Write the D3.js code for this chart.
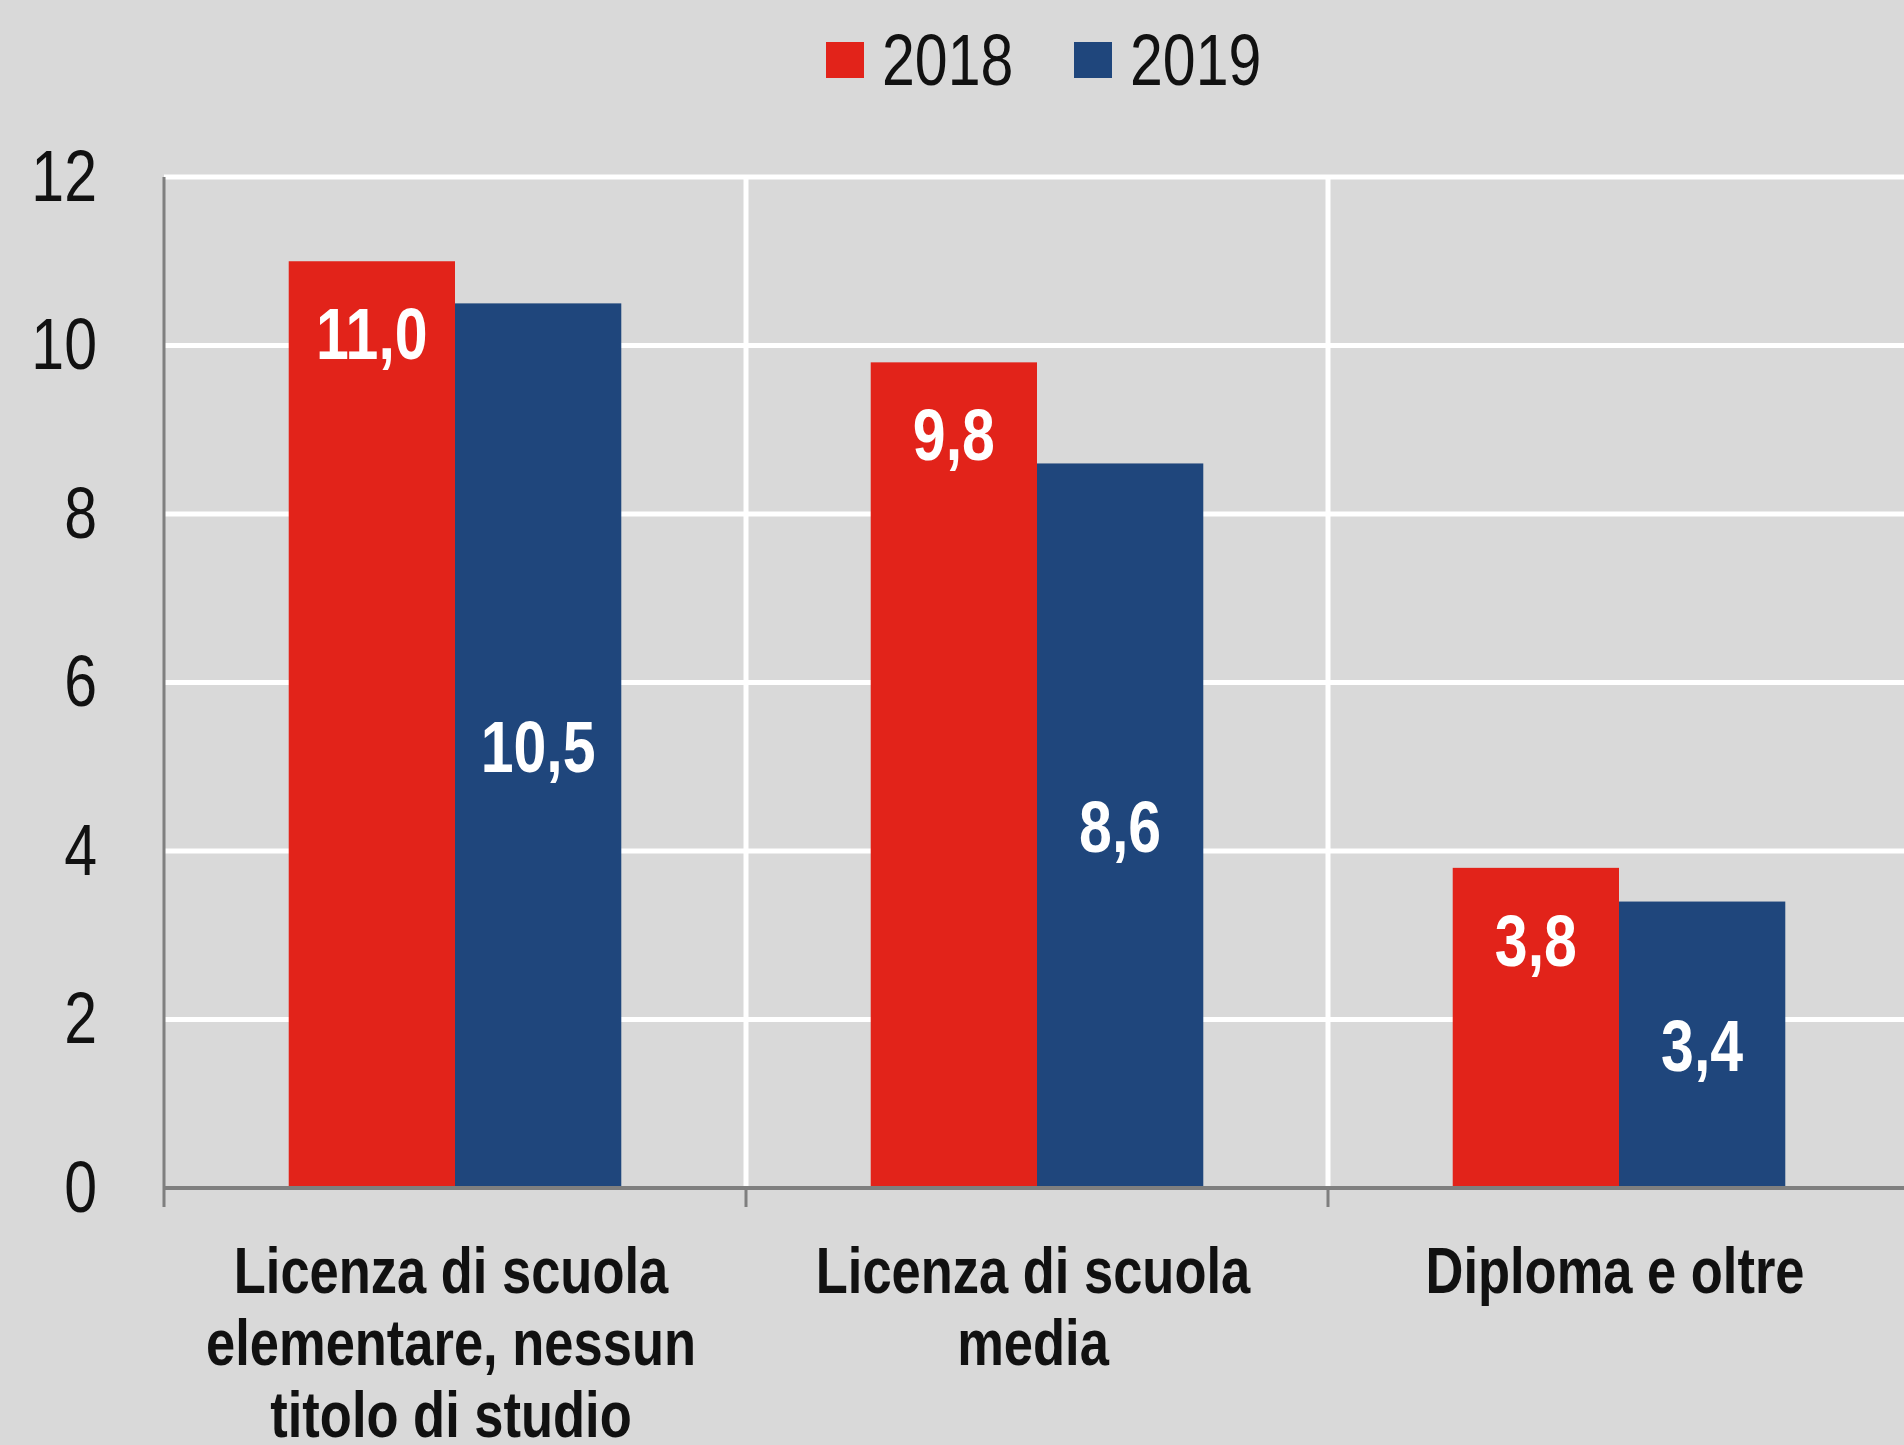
<!DOCTYPE html>
<html>
<head>
<meta charset="utf-8">
<script src="https://cdn.jsdelivr.net/npm/d3@7"></script>
<style>
  body { margin: 0; background: #d9d9d9; }
  text { font-family: "Liberation Sans Narrow", "Arial Narrow", "Liberation Sans", Arial, sans-serif; }
</style>
</head>
<body>
<div id="chart"></div>
<script>
var categories = ["elementare", "media", "diploma"];
var categoryLines = [
  ["Licenza di scuola", "elementare, nessun", "titolo di studio"],
  ["Licenza di scuola", "media"],
  ["Diploma e oltre"]
];
var series = ["2018", "2019"];
var values2018 = [11.0, 9.8, 3.8];
var values2019 = [10.5, 8.6, 3.4];
var yTicks = [0, 2, 4, 6, 8, 10, 12];

var colors = {"2018": "#e2231a", "2019": "#1f467c"};

var W = 1904, H = 1445;
var margin = {top: 177, left: 164, bottom: 257};
var plotRight = 1910;
var narrow = 0.82;   // the original uses a condensed face

// place a text at (x, y) squeezed horizontally
function at(x, y) {
  return "translate(" + x + "," + y + ") scale(" + narrow + ",1)";
}

var svg = d3.select("#chart")
  .append("svg")
    .attr("width", W)
    .attr("height", H);

// scales
var y = d3.scaleLinear()
  .domain([0, 12])
  .range([H - margin.bottom, margin.top]);

var x0 = d3.scaleBand()
  .domain(categories)
  .range([margin.left, plotRight])
  .padding(0);

var x1 = d3.scaleBand()
  .domain(series)
  .range([0, x0.bandwidth()])
  .paddingInner(0)
  .paddingOuter(0.75);

var rows = categories.map(function(c, i) {
  return {cat: c, lines: categoryLines[i], vals: {"2018": values2018[i], "2019": values2019[i]}};
});

// horizontal gridlines
svg.append("g")
  .selectAll("line")
  .data(yTicks.filter(function(d) { return d > 0; }))
  .enter()
  .append("line")
    .attr("x1", margin.left)
    .attr("x2", W)
    .attr("y1", function(d) { return y(d); })
    .attr("y2", function(d) { return y(d); })
    .attr("stroke", "white")
    .attr("stroke-width", 5);

// vertical separators between categories
svg.append("g")
  .selectAll("line")
  .data(categories.slice(1))
  .enter()
  .append("line")
    .attr("x1", function(d) { return x0(d); })
    .attr("x2", function(d) { return x0(d); })
    .attr("y1", y(12))
    .attr("y2", y(0))
    .attr("stroke", "white")
    .attr("stroke-width", 5);

// bars
var groups = svg.append("g")
  .selectAll("g")
  .data(rows)
  .enter()
  .append("g")
    .attr("transform", function(d) { return "translate(" + x0(d.cat) + ",0)"; });

groups.selectAll("rect")
  .data(function(d) { return series.map(function(s) { return {s: s, v: d.vals[s]}; }); })
  .enter()
  .append("rect")
    .attr("x", function(d) { return x1(d.s); })
    .attr("y", function(d) { return y(d.v); })
    .attr("width", x1.bandwidth())
    .attr("height", function(d) { return y(0) - y(d.v); })
    .style("fill", function(d) { return colors[d.s]; });

var fmt = function(v) { return d3.format(".1f")(v).replace(".", ","); };

// value labels: 2018 near the top, 2019 centred
groups.selectAll("text.val")
  .data(function(d) { return series.map(function(s) { return {s: s, v: d.vals[s]}; }); })
  .enter()
  .append("text")
    .attr("class", "val")
    .attr("transform", function(d) {
      var ty = d.s == "2018" ? y(d.v) + 98 : (y(d.v) + y(0)) / 2 + 26;
      return at(x1(d.s) + x1.bandwidth() / 2, ty);
    })
    .attr("text-anchor", "middle")
    .attr("font-size", 72)
    .attr("font-weight", "bold")
    .attr("fill", "white")
    .text(function(d) { return fmt(d.v); });

// axes lines
svg.append("line")
  .attr("x1", margin.left).attr("x2", margin.left)
  .attr("y1", y(12)).attr("y2", y(0) + 19)
  .attr("stroke", "#7f7f7f").attr("stroke-width", 3);

svg.append("line")
  .attr("x1", margin.left).attr("x2", W)
  .attr("y1", y(0)).attr("y2", y(0))
  .attr("stroke", "#7f7f7f").attr("stroke-width", 4);

svg.append("g")
  .selectAll("line")
  .data(categories.slice(1).concat(["end"]))
  .enter()
  .append("line")
    .attr("x1", function(d) { return d == "end" ? plotRight - 3 : x0(d); })
    .attr("x2", function(d) { return d == "end" ? plotRight - 3 : x0(d); })
    .attr("y1", y(0))
    .attr("y2", y(0) + 19)
    .attr("stroke", "#7f7f7f")
    .attr("stroke-width", 3);

// y tick labels
svg.append("g")
  .selectAll("text")
  .data(yTicks)
  .enter()
  .append("text")
    .attr("transform", function(d) { return at(97, y(d)); })
    .attr("dy", "0.33em")
    .attr("text-anchor", "end")
    .attr("font-size", 72)
    .attr("fill", "#111")
    .text(function(d) { return d; });

// category labels
var catLabels = svg.append("g")
  .selectAll("text")
  .data(rows)
  .enter()
  .append("text")
    .attr("transform", function(d) { return at(x0(d.cat) + x0.bandwidth() / 2 - 4, 1293); })
    .attr("text-anchor", "middle")
    .attr("font-size", 64)
    .attr("font-weight", "bold")
    .attr("fill", "#111");

catLabels.selectAll("tspan")
  .data(function(d) { return d.lines; })
  .enter()
  .append("tspan")
    .attr("x", 0)
    .attr("dy", function(d, i) { return i == 0 ? 0 : 72; })
    .text(function(d) { return d; });

// legend
var legendX = [826, 1074];
var legend = svg.append("g")
  .selectAll("g")
  .data(series)
  .enter()
  .append("g")
    .attr("transform", function(d, i) { return "translate(" + legendX[i] + ",0)"; });

legend.append("rect")
  .attr("x", 0)
  .attr("y", 42)
  .attr("width", 38)
  .attr("height", 36)
  .style("fill", function(d) { return colors[d]; });

legend.append("text")
  .attr("transform", at(56, 85))
  .attr("font-size", 72)
  .attr("fill", "#111")
  .text(function(d) { return d; });
</script>
</body>
</html>
